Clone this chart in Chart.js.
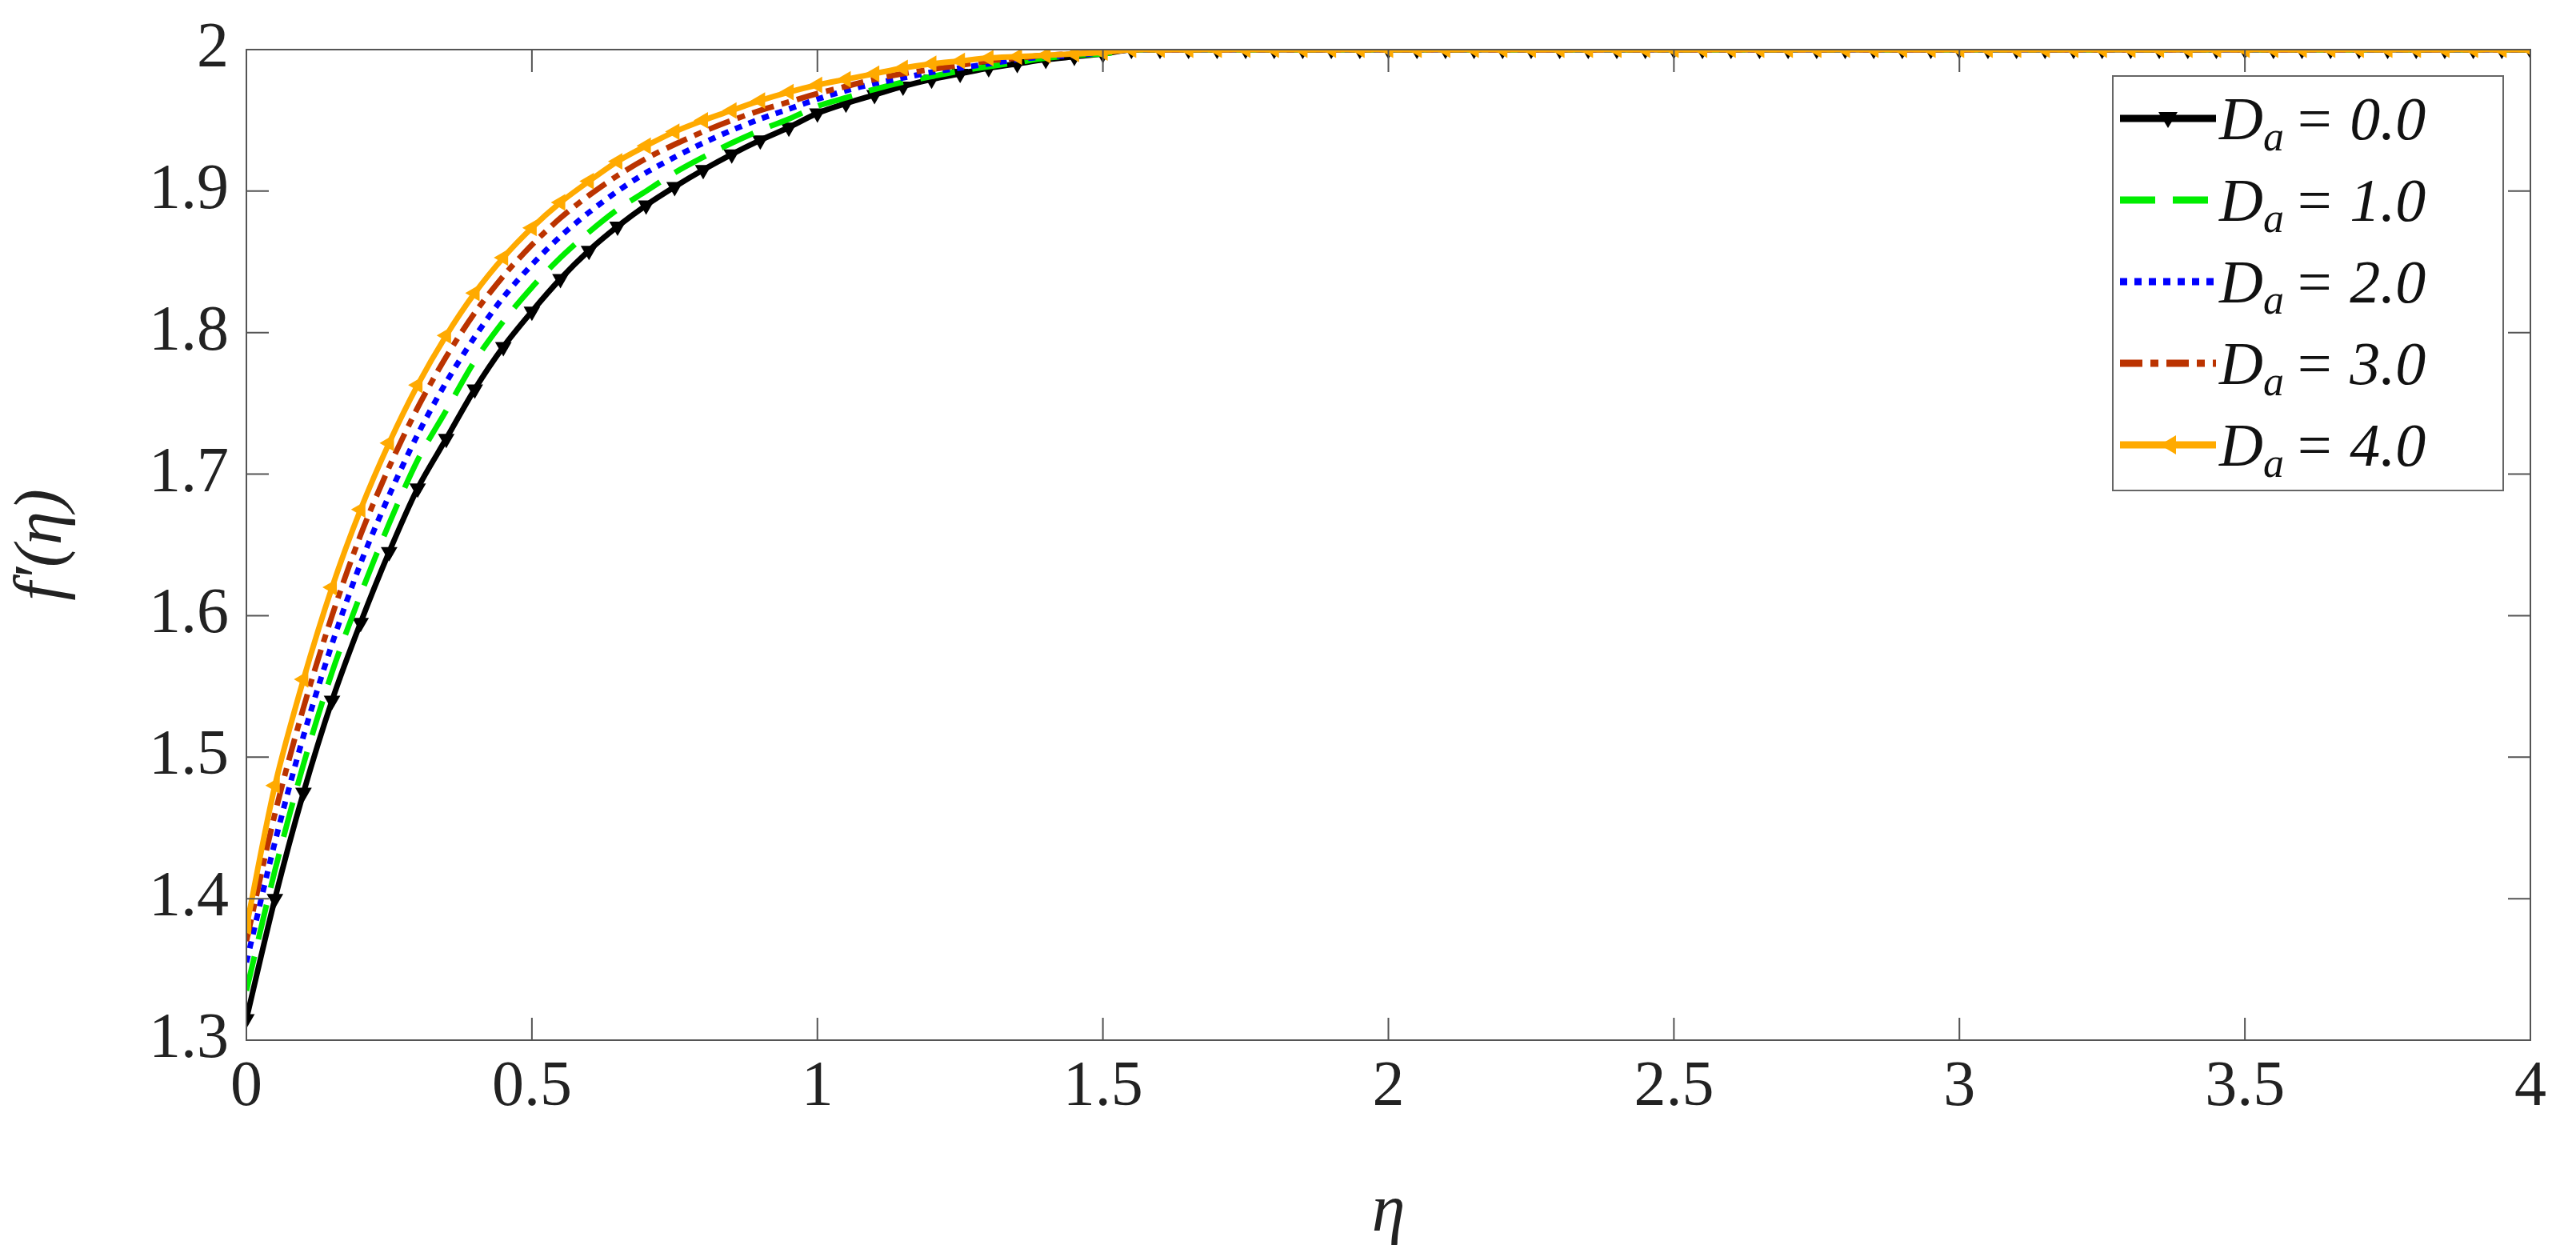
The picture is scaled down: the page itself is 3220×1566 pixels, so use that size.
<!DOCTYPE html>
<html>
<head>
<meta charset="utf-8">
<script src="https://cdn.jsdelivr.net/npm/chart.js@4"></script>
<style>
  html, body { margin: 0; padding: 0; background: #fff; }
  #wrap { position: relative; width: 3220px; height: 1566px; }
  #legend {
    position: absolute; left: 2640px; top: 94px; width: 490px; height: 520px;
    border: 2px solid #666; background: #fff; box-sizing: border-box;
    font-family: "Liberation Serif", serif; font-style: italic; font-size: 76px; color: #111;
  }
  .row { position: absolute; left: 8px; height: 104px; display: flex; align-items: center; white-space: nowrap; }
  .row svg { width: 120px; height: 40px; margin-right: 4px; }
  .row sub { font-size: 52px; position: relative; top: 22px; margin-right: 12px; }
</style>
</head>
<body>
<div id="wrap">
  <canvas id="chart" width="3220" height="1566"></canvas>
  <div id="legend"></div>
</div>
<script>
const etaLabels = [0, 0.05, 0.1, 0.15, 0.2, 0.25, 0.3, 0.35, 0.4, 0.45, 0.5, 0.55, 0.6, 0.65, 0.7, 0.75,
  0.8, 0.85, 0.9, 0.95, 1.0, 1.05, 1.1, 1.15, 1.2, 1.25, 1.3, 1.35, 1.4, 1.45, 1.5,
  1.55, 1.6, 1.65, 1.7, 1.75, 1.8, 1.85, 1.9, 1.95, 2.0, 2.05, 2.1, 2.15, 2.2, 2.25, 2.3, 2.35, 2.4, 2.45,
  2.5, 2.55, 2.6, 2.65, 2.7, 2.75, 2.8, 2.85, 2.9, 2.95, 3.0, 3.05, 3.1, 3.15, 3.2, 3.25, 3.3, 3.35, 3.4, 3.45,
  3.5, 3.55, 3.6, 3.65, 3.7, 3.75, 3.8, 3.85, 3.9, 3.95, 4.0];

const tail = [2.0, 2.0, 2.0, 2.0, 2.0, 2.0, 2.0, 2.0, 2.0, 2.0, 2.0, 2.0, 2.0, 2.0, 2.0, 2.0, 2.0, 2.0, 2.0, 2.0,
  2.0, 2.0, 2.0, 2.0, 2.0, 2.0, 2.0, 2.0, 2.0, 2.0, 2.0, 2.0, 2.0, 2.0, 2.0, 2.0, 2.0, 2.0, 2.0, 2.0, 2.0, 2.0, 2.0, 2.0, 2.0, 2.0, 2.0, 2.0, 2.0, 2.0];
const da0 = [1.315, 1.40, 1.475, 1.54, 1.595, 1.645, 1.69, 1.725, 1.76, 1.79, 1.815, 1.838, 1.858, 1.875, 1.89, 1.903,
  1.915, 1.926, 1.936, 1.945, 1.955, 1.962, 1.968, 1.974, 1.979, 1.983, 1.987, 1.99, 1.993, 1.995, 1.997].concat(tail);
const da1 = [1.335, 1.42, 1.495, 1.56, 1.615, 1.665, 1.71, 1.745, 1.78, 1.808, 1.832, 1.853, 1.871, 1.887, 1.9, 1.913,
  1.924, 1.934, 1.943, 1.951, 1.96, 1.966, 1.972, 1.977, 1.981, 1.985, 1.988, 1.991, 1.994, 1.996, 1.997].concat(tail);
const da2 = [1.355, 1.44, 1.515, 1.58, 1.637, 1.685, 1.728, 1.765, 1.797, 1.825, 1.848, 1.868, 1.885, 1.9, 1.913, 1.924,
  1.934, 1.943, 1.951, 1.958, 1.965, 1.971, 1.976, 1.98, 1.984, 1.987, 1.99, 1.993, 1.995, 1.996, 1.998].concat(tail);
const da3 = [1.37, 1.46, 1.535, 1.6, 1.657, 1.705, 1.747, 1.783, 1.814, 1.84, 1.862, 1.881, 1.897, 1.911, 1.923, 1.933,
  1.942, 1.95, 1.957, 1.963, 1.969, 1.974, 1.979, 1.983, 1.986, 1.989, 1.992, 1.994, 1.996, 1.997, 1.998].concat(tail);
const da4 = [1.38, 1.48, 1.555, 1.62, 1.675, 1.722, 1.763, 1.798, 1.828, 1.853, 1.874, 1.892, 1.907, 1.921, 1.932, 1.942,
  1.95, 1.957, 1.964, 1.97, 1.975, 1.979, 1.983, 1.987, 1.99, 1.992, 1.994, 1.995, 1.996, 1.997, 1.998].concat(tail);

const seriesNames = ['0.0', '1.0', '2.0', '3.0', '4.0'];
const seriesColors = ['#000000', '#00ee00', '#0000ff', '#bb3300', '#ffaa00'];
const seriesDash = [[], [44, 22], [9, 9], [28, 10, 10, 10], []];
const xTicks = [0, 0.5, 1, 1.5, 2, 2.5, 3, 3.5, 4];
const yTicks = [1.3, 1.4, 1.5, 1.6, 1.7, 1.8, 1.9, 2.0];

const toXY = arr => arr.map((v, i) => ({ x: etaLabels[i], y: v }));
const allData = [da0, da1, da2, da3, da4];

const datasets = allData.map((arr, i) => ({
  label: 'Da = ' + seriesNames[i],
  data: toXY(arr),
  order: 4 - i,
  borderColor: seriesColors[i],
  backgroundColor: seriesColors[i],
  borderWidth: 7,
  borderDash: seriesDash[i],
  tension: 0.3,
  pointStyle: 'triangle',
  pointRotation: i === 0 ? 180 : -90,
  pointRadius: (i === 0 || i === 4) ? 12 : 0,
  pointBorderWidth: 0
}));

// box and inward ticks, matlab style
const boxPlugin = {
  id: 'box',
  afterDraw(chart) {
    const { ctx, chartArea: a, scales: { x, y } } = chart;
    ctx.save();
    ctx.strokeStyle = '#555';
    ctx.lineWidth = 2;
    ctx.strokeRect(a.left, a.top, a.right - a.left, a.bottom - a.top);
    ctx.beginPath();
    xTicks.forEach(t => {
      const px = x.getPixelForValue(t);
      ctx.moveTo(px, a.bottom); ctx.lineTo(px, a.bottom - 28);
      ctx.moveTo(px, a.top); ctx.lineTo(px, a.top + 28);
    });
    yTicks.forEach(t => {
      const py = y.getPixelForValue(t);
      ctx.moveTo(a.left, py); ctx.lineTo(a.left + 28, py);
      ctx.moveTo(a.right, py); ctx.lineTo(a.right - 28, py);
    });
    ctx.stroke();
    ctx.restore();
  }
};

const tickFont = { family: '"Liberation Serif", serif', size: 80 };

new Chart(document.getElementById('chart').getContext('2d'), {
  type: 'line',
  data: { datasets },
  options: {
    responsive: false,
    animation: false,
    layout: { padding: { left: 0, top: 45, right: 57, bottom: 0 } },
    plugins: { legend: { display: false }, tooltip: { enabled: false } },
    scales: {
      x: {
        type: 'linear', min: 0, max: 4,
        afterBuildTicks: s => { s.ticks = xTicks.map(v => ({ value: v })); },
        afterFit: s => { s.height = 266; },
        grid: { display: false },
        border: { display: false },
        ticks: { font: tickFont, color: '#222', padding: 4, maxRotation: 0,
          callback: v => String(v) },
        title: { display: true, text: 'η', font: { family: '"Liberation Serif", serif', size: 84, style: 'italic' }, color: '#222', padding: { top: -10, bottom: 0 } }
      },
      y: {
        type: 'linear', min: 1.3, max: 2.0,
        afterBuildTicks: s => { s.ticks = yTicks.map(v => ({ value: v })); },
        afterFit: s => { s.width = 308; },
        grid: { display: false },
        border: { display: false },
        ticks: { font: tickFont, color: '#222', padding: 14,
          callback: v => (v === 2 ? '2' : v.toFixed(1)) },
        title: { display: true, text: 'f′(η)', font: { family: '"Liberation Serif", serif', size: 84, style: 'italic' }, color: '#222' }
      }
    }
  },
  plugins: [boxPlugin]
});

// legend with subscripts
const legend = document.getElementById('legend');
seriesNames.forEach((n, i) => {
  const row = document.createElement('div');
  row.className = 'row';
  row.style.top = (0 + i * 102) + 'px';
  const dash = seriesDash[i].length ? `stroke-dasharray="${seriesDash[i].join(' ')}"` : '';
  let marker = '';
  if (i === 0) marker = '<polygon points="48,12 72,12 60,32" fill="#000"/>';
  if (i === 4) marker = '<polygon points="50,20 70,8 70,32" fill="#ffaa00"/>';
  row.innerHTML = `<svg viewBox="0 0 120 40"><line x1="0" y1="20" x2="120" y2="20" stroke="${seriesColors[i]}" stroke-width="9" ${dash}/>${marker}</svg>` +
    `<span>D</span><sub>a</sub><span>= ${n}</span>`;
  legend.appendChild(row);
});
</script>
</body>
</html>
